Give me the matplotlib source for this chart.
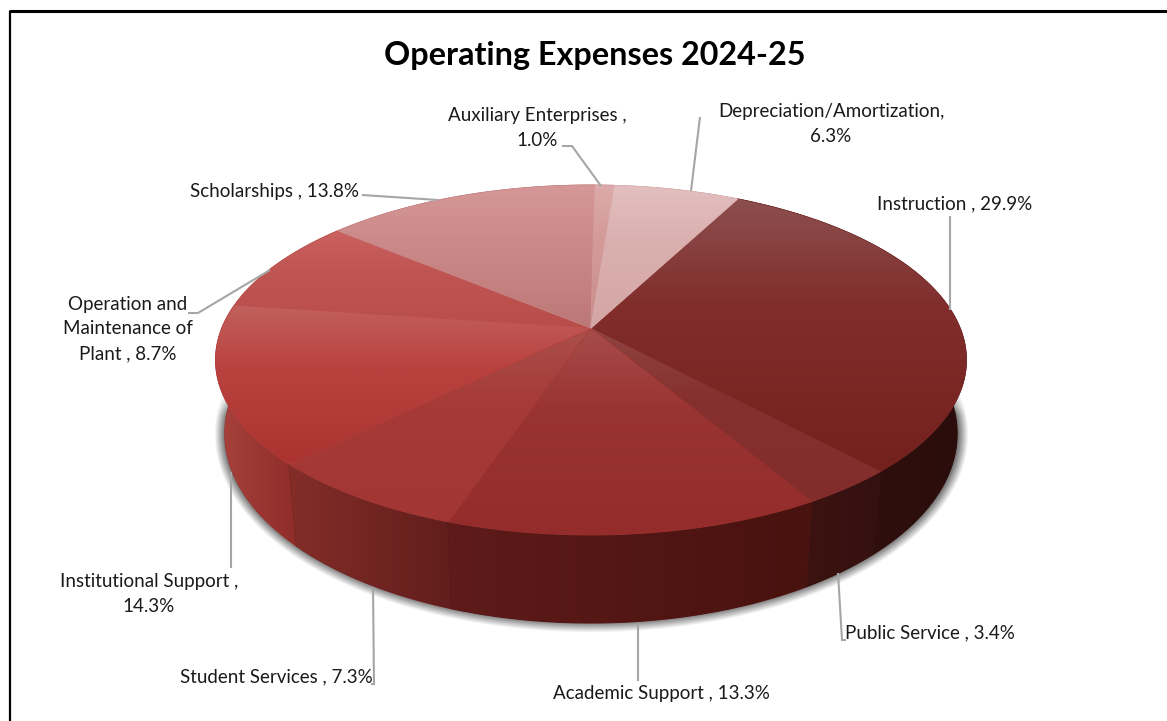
import numpy as np
import matplotlib
matplotlib.use("Agg")
import matplotlib.pyplot as plt
from matplotlib.colors import to_rgb
from matplotlib.patches import Polygon

categories = ["Instruction", "Public Service", "Academic Support", "Student Services",
              "Institutional Support", "Operation and\nMaintenance of\nPlant", "Scholarships",
              "Auxiliary Enterprises", "Depreciation/Amortization"]
percents = [29.9, 3.4, 13.3, 7.3, 14.3, 8.7, 13.8, 1.0, 6.3]
separators = [" , ", " , ", " , ", " , ", " ,\n", " , ", " , ", " ,\n", ",\n"]

# top face colours: back edge, middle, front edge
top_light = ["#8c4f4e", "#8f4543", "#a64c4a", "#ab4f4c", "#c2605d", "#cc625f", "#d59797", "#dcaaaa", "#e3bfbf"]
top_mid = ["#802d2b", "#863130", "#9a3432", "#a63a37", "#b9423f", "#c05653", "#cb8a89", "#d39a99", "#dab0af"]
top_dark = ["#74211e", "#822c2b", "#932c2b", "#a23633", "#ab332f", "#b84d4a", "#bc7877", "#c98e8c", "#d3a6a4"]
# side colours: left and right end of each slice
side_left = ["#38120f", "#3c1310", "#5e1b19", "#842d29", "#a8423d", "#b04a46", "#b87472", "#c08a88", "#c9a09e"]
side_right = ["#2a0d0b", "#341110", "#48120f", "#611e1c", "#8f2d2a", "#a03f3c", "#a86664", "#b07c7a", "#b89290"]

# label text centres and leader lines, in pixels
label_pos = [(955, 204), (930, 633), (661, 694), (276, 677), (149, 594),
             (128, 329), (275, 191), (537, 128), (831, 124)]
leaders = [[(950, 310), (950, 216)], [(838, 573), (842, 640), (846, 640)], [(638, 623), (638, 681)],
           [(373, 587), (374, 684), (371, 684)], [(231, 472), (231, 568)],
           [(188, 313), (198, 313), (270, 270)], [(362, 195), (438, 200)],
           [(562, 146), (572, 146), (601, 186)], [(700, 117), (691, 191)]]

W, H = 1167, 721
CX = 591
PERSP = 0.183
START = 27.5


def rim(theta, a, b, cy):
    # theta in degrees clockwise from the back of the pie
    t = np.radians(theta)
    u, v = np.sin(t), np.cos(t)
    k = 1 + PERSP * v
    return CX + a * u / k, cy - b * v / k


def upper(theta):
    return rim(theta, 369, 169, 328)


def lower(theta):
    return rim(theta, 360, 183, 399)


def lerp(c1, c2, n):
    c1, c2 = np.array(to_rgb(c1)), np.array(to_rgb(c2))
    return np.linspace(0, 1, n)[:, None] * (c2 - c1) + c1


def fill_gradient(ax, xs, ys, grad, horizontal=False):
    # solid base first so no pale seams show between slices
    base = grad[len(grad) // 2]
    pts = np.column_stack([xs, ys])
    ax.add_patch(Polygon(pts, closed=True, fc=base, ec=base, lw=0.8, zorder=2))
    poly = Polygon(pts, closed=True, transform=ax.transData, fc="none", ec="none", zorder=2)
    ax.add_patch(poly)
    img = grad[None, :, :] if horizontal else grad[:, None, :]
    im = ax.imshow(img, extent=(xs.min(), xs.max(), ys.max(), ys.min()), aspect="auto",
                   interpolation="bilinear", zorder=2)
    im.set_clip_path(poly)


fig = plt.figure(figsize=(W / 100, H / 100), dpi=100)
ax = fig.add_axes([0, 0, 1, 1])
plt.rcParams["font.family"] = ["Lato", "DejaVu Sans"]

# soft shadow around the lower rim
yy, xx = np.mgrid[0:H, 0:W]
fx = (xx - CX) / 372.0
fy = (yy - 434) / 193.0
f = np.sqrt(fx ** 2 + fy ** 2)
g = np.sqrt((fx / 372.0) ** 2 + (fy / 193.0) ** 2) / np.maximum(f, 1e-6)
dist = (f - 1) / np.maximum(g, 1e-6)
shadow = np.zeros((H, W, 4))
shadow[..., :3] = 0.3
shadow[..., 3] = 0.75 * np.clip(1 - (dist + 5) / 10, 0, 1) * np.clip((yy - 385) / 30, 0, 1)
ax.imshow(shadow, extent=(0, W, H, 0), aspect="auto", zorder=1)

# slice limits
total = sum(percents)
spans = [p / total * 360 for p in percents]
limits = START + np.concatenate([[0], np.cumsum(spans)])

# sides, back to front
mids = (limits[:-1] + limits[1:]) / 2
order = np.argsort(-np.cos(np.radians(mids)))
for i in order:
    th = np.linspace(limits[i], limits[i + 1], 80)
    x1, y1 = upper(th)
    x2, y2 = lower(th[::-1])
    xs = np.concatenate([x1, x2])
    ys = np.concatenate([y1, y2])
    fill_gradient(ax, xs, ys, lerp(side_left[i], side_right[i], 64), horizontal=True)

# top face
for i in range(len(percents)):
    th = np.linspace(limits[i], limits[i + 1], 80)
    x1, y1 = upper(th)
    xs = np.concatenate([[CX], x1])
    ys = np.concatenate([[328], y1])
    grad = np.vstack([lerp(top_light[i], top_mid[i], 40), lerp(top_mid[i], top_dark[i], 60)])
    fill_gradient(ax, xs, ys, grad)

# leader lines and labels
for line in leaders:
    ax.plot([p[0] for p in line], [p[1] for p in line], color="#a6a6a6", lw=1.5, zorder=6,
            solid_joinstyle="miter", solid_capstyle="butt")
for name, pct, sep, pos in zip(categories, percents, separators, label_pos):
    ax.text(pos[0], pos[1], f"{name}{sep}{pct:.1f}%", ha="center", va="center", fontsize=13.5,
            color="#1a1a1a", linespacing=1.55, zorder=7)

ax.text(595, 55, "Operating Expenses 2024-25", ha="center", va="center", fontsize=23.3,
        fontweight="bold", color="black", zorder=7)

# frame, open at the right and bottom
ax.plot([10, 10], [H, 11], color="black", lw=1.6, zorder=8, solid_capstyle="butt")
ax.plot([9, W], [11, 11], color="black", lw=2.2, zorder=8, solid_capstyle="butt")

ax.set_xlim(0, W)
ax.set_ylim(H, 0)
ax.axis("off")
fig.savefig("out.png", dpi=100, facecolor="white")
